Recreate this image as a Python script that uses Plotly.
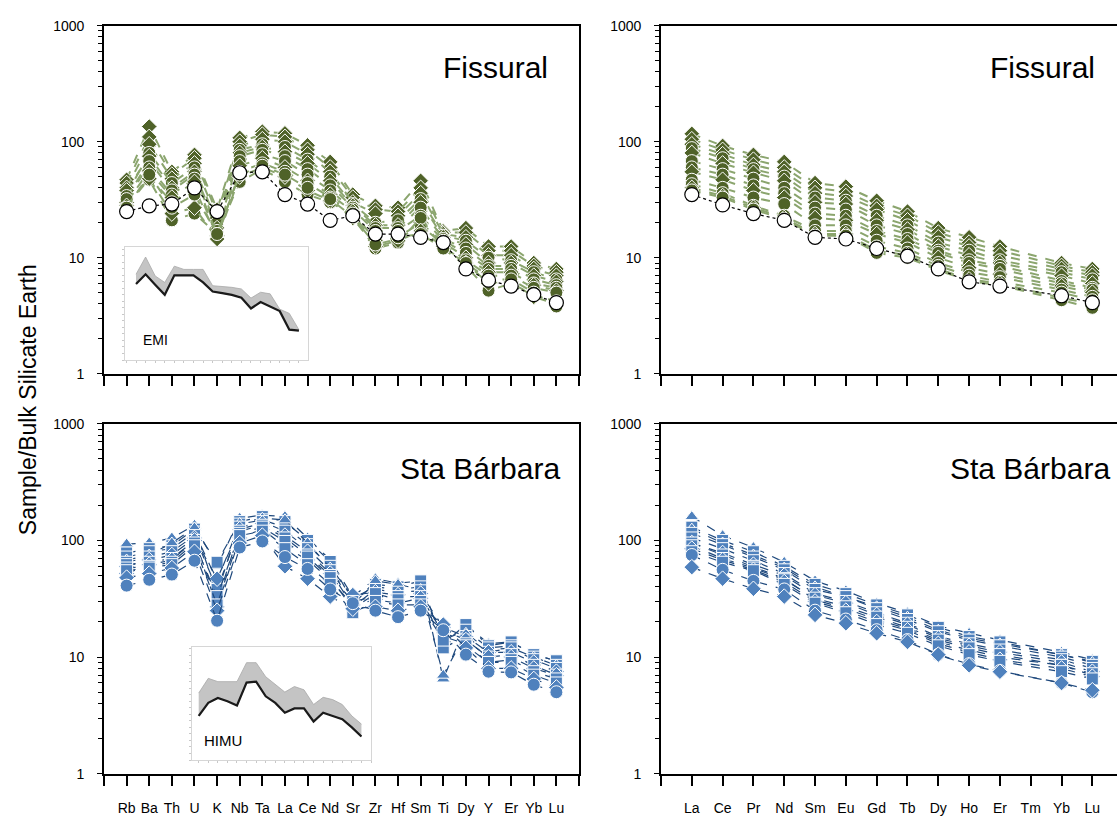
import plotly.graph_objects as go

# ---------------- data ----------------
spider_el = ["Rb", "Ba", "Th", "U", "K", "Nb", "Ta", "La", "Ce", "Nd",
             "Sr", "Zr", "Hf", "Sm", "Ti", "Dy", "Y", "Er", "Yb", "Lu"]
ree_el = ["La", "Ce", "Pr", "Nd", "Sm", "Eu", "Gd", "Tb", "Dy", "Ho", "Er", "Tm", "Yb", "Lu"]
y_ticks = [1, 10, 100, 1000]
y_minor = [2, 3, 4, 5, 6, 7, 8, 9, 20, 30, 40, 50, 60, 70, 80, 90,
           200, 300, 400, 500, 600, 700, 800, 900]

fis_spider = [
    ("diamond", [47, 135, 55, 77, 26, 108, 122, 118, 93, 67, 35, 28, 27, 46, 17, 18, 12.5, 12.5, 9, 8]),
    ("diamond", [44, 110, 52, 72, 24, 100, 115, 110, 85, 60, 33, 26, 25, 40, 16.5, 16.5, 11.5, 11.5, 8.5, 7.5]),
    ("diamond", [40, 95, 48, 65, 22, 92, 105, 100, 78, 55, 30, 24, 23, 36, 16, 15, 10.5, 10.5, 8, 7]),
    ("circle", [35, 80, 44, 60, 20, 85, 95, 90, 70, 50, 29, 20, 21, 32, 15.5, 14, 10, 9.5, 7.5, 6.5]),
    ("diamond", [38, 75, 40, 55, 18, 80, 90, 82, 65, 46, 28, 19, 19, 30, 15, 13, 9, 9, 7, 6.2]),
    ("circle", [33, 68, 38, 52, 17, 75, 85, 75, 58, 42, 27, 18, 18, 27, 14.5, 12, 8.5, 8.5, 6.5, 5.8]),
    ("circle", [34, 60, 35, 48, 16, 68, 78, 68, 52, 38, 26, 17, 17, 23, 14, 11, 8, 8, 6, 5.5]),
    ("diamond", [30, 56, 33, 45, 15.5, 62, 72, 60, 46, 35, 25, 14, 15, 20, 13.5, 10, 7.5, 7.5, 5.8, 5.2]),
    ("circle", [28, 50, 30, 40, 15, 55, 65, 55, 44, 33, 24, 13, 14.5, 19, 13, 9.5, 7, 7, 5.5, 5]),
    ("circle", [32, 47, 21, 24, 16, 45, 58, 45, 35, 30, 23, 12, 13.5, 22, 12, 8.5, 5.2, 6, 4.8, 4.2]),
    ("diamond", [28, 48, 24, 27, 14.5, 50, 60, 50, 38, 31, 22, 12.5, 14, 17, 12.5, 9, 6, 6.2, 4.6, 4]),
    ("circle", [27, 52, 27, 35, 16, 52, 62, 52, 40, 32, 22.5, 13, 15, 16, 12, 9, 6.5, 6.5, 5, 3.8]),
]
fis_spider_ref = [25, 28, 29, 40, 25, 54, 55, 35, 29, 21, 23, 16, 16, 15, 13.5, 8, 6.4, 5.7, 4.8, 4.1]

fis_ree = [
    ("diamond", [117, 92, 77, 67, 44, 41, 31, 25, 18, 15, 12.5, None, 9, 8]),
    ("diamond", [105, 85, 70, 60, 40, 37, 28, 23, 16.5, 13.5, 11.5, None, 8.5, 7.5]),
    ("diamond", [95, 78, 63, 55, 36, 34, 26, 21, 15, 12.5, 10.5, None, 8, 7]),
    ("circle", [88, 72, 58, 50, 33, 31, 23, 19, 13.5, 11.5, 9.5, None, 7.5, 6.5]),
    ("diamond", [80, 65, 54, 46, 30, 29, 21, 17.5, 12.5, 10.5, 9, None, 7, 6]),
    ("circle", [68, 58, 48, 40, 27, 26, 19, 16, 11.5, 9.5, 8.5, None, 6.3, 5.5]),
    ("circle", [60, 52, 42, 36, 24, 23, 17, 14.5, 11, 9, 8, None, 6, 5.3]),
    ("diamond", [55, 47, 38, 33, 22, 21, 16, 13.5, 10, 8.2, 7.2, None, 5.7, 5]),
    ("circle", [47, 40, 33, 29, 19, 19, 14, 12, 9, 7.5, 6.8, None, 5.3, 4.6]),
    ("circle", [43, 36, 28, 23, 17, 17, 12.5, 11, 8.5, 7, 6.2, None, 5, 4.3]),
    ("diamond", [40, 34, 27, 22, 16, 16, 11.5, 10.5, 8, 6.5, 6, None, 4.5, 4]),
    ("circle", [38, 33, 26, 21.5, 15.5, 15.5, 11, 10, 7.8, 6.3, 5.8, None, 4.3, 3.7]),
]
fis_ree_ref = [35, 28.5, 24, 21, 15, 14.5, 12, 10.3, 8, 6.2, 5.7, None, 4.7, 4.1]

sb_spider = [
    ("triangle-up", [93, 95, 105, 135, 60, 155, 165, 160, 105, 68, 33, 47, 43, 45, 6.5, 19, 13, 13.5, 10.5, 9.3]),
    ("square", [78, 85, 90, 125, 65, 145, 160, 145, 100, 66, 30, 42, 40, 45, 13, 19, 12.5, 13.5, 10.5, 9.3]),
    ("square", [72, 80, 85, 118, 45, 138, 150, 130, 92, 60, 32, 40, 38, 40, 14, 17, 12, 12.5, 10, 8.5]),
    ("triangle-up", [68, 75, 95, 128, 35, 140, 155, 150, 95, 58, 28, 45, 42, 38, 7, 16, 11.5, 12, 10, 8.5]),
    ("square", [65, 72, 80, 110, 38, 130, 145, 120, 85, 55, 27, 38, 36, 37, 12, 15, 11, 12, 9.5, 8]),
    ("diamond", [60, 68, 75, 105, 47, 125, 140, 110, 80, 52, 34, 36, 34, 35, 18, 15, 11, 11, 9, 7.5]),
    ("square", [62, 65, 70, 100, 30, 120, 135, 105, 75, 50, 30, 33, 33, 33, 16, 14, 10, 10.5, 8.5, 7]),
    ("diamond", [52, 62, 68, 100, 27, 105, 125, 88, 68, 46, 28, 31, 29, 32, 17, 14, 10, 10, 8, 7]),
    ("square", [58, 60, 65, 95, 33, 115, 130, 98, 72, 48, 26, 35, 31, 30, 15, 13, 9, 9.5, 7.5, 6.5]),
    ("square", [55, 58, 62, 90, 28, 110, 120, 85, 62, 42, 24, 30, 28, 28, 14, 12.5, 9, 9, 7, 6]),
    ("diamond", [48, 52, 58, 80, 25, 95, 110, 60, 47, 33, 26, 27, 25, 27, 19, 12, 8, 8, 6.5, 5.5]),
    ("circle", [41, 46, 51, 67, 20.5, 87, 98, 72, 57, 38, 29, 25, 22, 25, 17, 10.5, 7.5, 7.4, 5.8, 5]),
]

sb_ree = [
    ("triangle-up", [160, 110, 87, 65, 45, 37, 29, 24, 18.5, 16, 14, None, 11, 9.5]),
    ("square", [130, 100, 80, 60, 42, 35, 28, 23, 18, 15, 13.5, None, 10.5, 9.2]),
    ("triangle-up", [125, 95, 75, 58, 40, 33, 27, 22, 17, 14.5, 13, None, 10.5, 9]),
    ("square", [115, 92, 72, 56, 38, 33, 26, 21, 16.5, 14, 12.5, None, 10, 8.5]),
    ("square", [105, 85, 67, 52, 35, 30, 24, 19.5, 15, 13, 11.5, None, 9.5, 8]),
    ("diamond", [95, 78, 62, 50, 34, 29, 23, 19, 14.5, 12.5, 11, None, 9, 7.5]),
    ("square", [95, 75, 60, 47, 31, 26, 21, 17.5, 13.5, 11.5, 10, None, 8.5, 7]),
    ("square", [90, 70, 58, 46, 32, 27, 22, 18, 14, 12, 10.5, None, 8.5, 7.2]),
    ("diamond", [85, 68, 56, 44, 30, 25, 20, 17, 13, 11, 9.5, None, 8, 6.8]),
    ("square", [80, 65, 55, 42, 29, 24, 19, 16, 12.5, 10.5, 9.2, None, 7.5, 6.5]),
    ("circle", [75, 56, 45, 38, 25, 21, 17, 14, 10.5, 8.7, 7.6, None, 6, 5]),
    ("diamond", [59, 47, 38.5, 33, 23, 19.5, 16, 13.5, 10.5, 8.5, 7.5, None, 6, 5.2]),
]

# inset patterns (relative units, 18 elements)
emi_low = [233, 263, 231, 200, 260, 260, 260, 238, 210, 205, 200, 191, 158, 178, 163, 150, 93, 90]
emi_high = [263, 316, 258, 238, 288, 278, 278, 278, 228, 226, 223, 218, 190, 208, 203, 156, 143, 93]
himu_low = [135, 175, 190, 180, 167, 237, 240, 195, 175, 145, 158, 158, 118, 145, 135, 125, 100, 72]
himu_high = [205, 250, 240, 240, 240, 298, 298, 255, 230, 208, 225, 215, 170, 192, 185, 170, 135, 110]

GREEN = "#4F6228"
GREEN_LINE = "#8ba56e"
BLUE = "#4F81BD"
BLUE_LINE = "#1F497D"
FONT = "Liberation Sans, Arial, sans-serif"

W, H = 1117, 822
fig = go.Figure()


def px_x(p):
    return p / W


def px_y(p):
    return 1 - p / H


def add_series(series, xs, xa, ya, mcolor, lcolor, dash, lw, msize):
    for sym, vals in series:
        size = msize + (1 if sym == "circle" else 0)
        fig.add_trace(go.Scatter(
            x=xs, y=vals, xaxis=xa, yaxis=ya, mode="lines+markers",
            connectgaps=True, showlegend=False,
            line=dict(color=lcolor, width=lw, dash=dash),
            marker=dict(symbol=sym, size=size, color=mcolor,
                        line=dict(color="white", width=1)),
        ))


def add_ref(vals, xs, xa, ya):
    fig.add_trace(go.Scatter(
        x=xs, y=vals, xaxis=xa, yaxis=ya, mode="lines+markers",
        connectgaps=True, showlegend=False,
        line=dict(color="black", width=1.2, dash="dot"),
        marker=dict(symbol="circle", size=14, color="white",
                    line=dict(color="black", width=1.2)),
    ))


sx = list(range(len(spider_el)))
rx = list(range(len(ree_el)))

add_series(fis_spider, sx, "x", "y", GREEN, GREEN_LINE, "dash", 2, 12)
add_ref(fis_spider_ref, sx, "x", "y")
add_series(fis_ree, rx, "x2", "y2", GREEN, GREEN_LINE, "dash", 2, 12)
add_ref(fis_ree_ref, rx, "x2", "y2")
add_series(sb_spider, sx, "x3", "y3", BLUE, BLUE_LINE, "dash", 1.2, 12)
add_series(sb_ree, rx, "x4", "y4", BLUE, BLUE_LINE, "dash", 1.2, 12)

# insets
ix = list(range(len(emi_low)))
for xa, ya, low, high in (("x5", "y5", emi_low, emi_high), ("x6", "y6", himu_low, himu_high)):
    fig.add_trace(go.Scatter(x=ix, y=low, xaxis=xa, yaxis=ya, mode="lines",
                             line=dict(color="#8c8c8c", width=0.8), showlegend=False))
    fig.add_trace(go.Scatter(x=ix, y=high, xaxis=xa, yaxis=ya, mode="lines",
                             fill="tonexty", fillcolor="#c4c4c4",
                             line=dict(color="#a8a8a8", width=0.8), showlegend=False))
    fig.add_trace(go.Scatter(x=ix, y=low, xaxis=xa, yaxis=ya, mode="lines",
                             line=dict(color="#1a1a1a", width=2.2), showlegend=False))

# ---------------- layout ----------------
L_X = [px_x(104), px_x(579)]
R_X = [px_x(661), 1.0]
T_Y = [px_y(373), px_y(18)]
B_Y = [px_y(781), px_y(424)]


def yax(domain, anchor, mirror):
    return dict(domain=domain, anchor=anchor, type="log", range=[0, 3],
                tickmode="array", tickvals=y_ticks, ticktext=[str(v) for v in y_ticks],
                showline=True, linecolor="black", linewidth=1.6, mirror=mirror,
                ticks="outside", ticklen=5, tickwidth=1.2, tickcolor="black",
                minor=dict(tickmode="array", tickvals=y_minor, ticks="outside",
                           ticklen=4, tickwidth=1, tickcolor="black", showgrid=False),
                showgrid=False, zeroline=False, ticklabelstandoff=10,
                tickfont=dict(family=FONT, size=14, color="black"))


def xax(domain, anchor, n, rng, labels, show):
    vals = list(range(-1, n + 1))
    txt = [""] + (labels if show else [""] * len(labels)) + [""]
    return dict(domain=domain, anchor=anchor, range=rng, tickmode="array",
                tickvals=vals, ticktext=txt[:len(vals)],
                showline=True, linecolor="black", linewidth=1.6, mirror=True,
                ticks="outside", ticklen=10, tickwidth=1.5, tickcolor="black",
                showgrid=False, zeroline=False, ticklabelstandoff=11,
                tickfont=dict(family=FONT, size=14, color="black"))


def inset(dx, dy, anchor, rng_x, rng_y):
    common = dict(showline=True, linecolor="#d6d6d6", linewidth=1, mirror=True,
                  ticks="outside", ticklen=2, tickcolor="#c8c8c8", showticklabels=False,
                  showgrid=False, zeroline=False)
    xa = dict(domain=dx, anchor=anchor[1], range=rng_x, dtick=1, **common)
    ya = dict(domain=dy, anchor=anchor[0], range=rng_y, dtick=20, **common)
    return xa, ya


x5, y5 = inset([px_x(125), px_x(308)], [px_y(359), px_y(244)], ("x5", "y5"), [-1.15, 17.95], [0, 346])
x6, y6 = inset([px_x(192), px_x(371)], [px_y(767), px_y(652)], ("x6", "y6"), [-0.7, 18.0], [0, 345])

fig.update_layout(
    width=W, height=H, margin=dict(l=0, r=0, t=0, b=0),
    paper_bgcolor="white", plot_bgcolor="white", showlegend=False,
    xaxis=xax(L_X, "y", 20, [-1, 20], spider_el, False),
    yaxis=yax(T_Y, "x", True),
    xaxis2=xax(R_X, "y2", 14, [-1, 13.8], ree_el, False),
    yaxis2=yax(T_Y, "x2", False),
    xaxis3=xax(L_X, "y3", 20, [-1, 20], spider_el, True),
    yaxis3=yax(B_Y, "x3", True),
    xaxis4=xax(R_X, "y4", 14, [-1, 13.8], ree_el, True),
    yaxis4=yax(B_Y, "x4", False),
    xaxis5=x5, yaxis5=y5, xaxis6=x6, yaxis6=y6,
)

ann = []
for txt, xr, yc in (("Fissural", 550, 61), ("Fissural", 1097, 61),
                    ("Sta Bárbara", 562, 470), ("Sta Bárbara", 1112, 470)):
    ann.append(dict(text=txt, xref="paper", yref="paper", x=px_x(xr), y=px_y(yc),
                    xanchor="right", yanchor="middle", showarrow=False,
                    font=dict(family=FONT, size=30, color="black")))
ann.append(dict(text="Sample/Bulk Silicate Earth", xref="paper", yref="paper",
                x=px_x(28), y=px_y(400), textangle=-90, showarrow=False,
                xanchor="center", yanchor="middle",
                font=dict(family=FONT, size=23, color="black")))
ann.append(dict(text="EMI", xref="paper", yref="paper", x=px_x(141), y=px_y(339),
                xanchor="left", yanchor="middle", showarrow=False,
                font=dict(family=FONT, size=14, color="black")))
ann.append(dict(text="HIMU", xref="paper", yref="paper", x=px_x(202), y=px_y(747),
                xanchor="left", yanchor="middle", showarrow=False,
                font=dict(family=FONT, size=15, color="black")))
fig.update_layout(annotations=ann)

fig.write_html("out.html")
